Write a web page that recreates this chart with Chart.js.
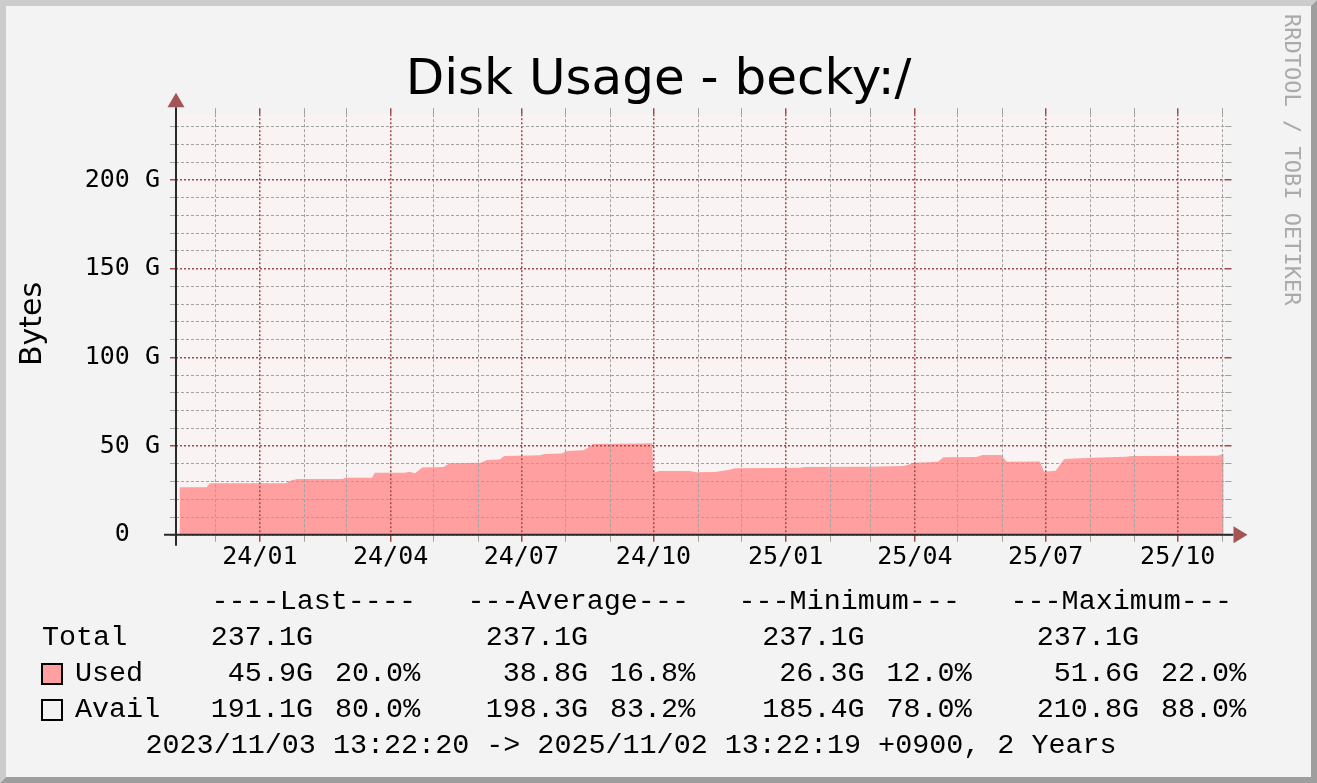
<!DOCTYPE html>
<html>
<head>
<meta charset="utf-8">
<script src="https://cdn.jsdelivr.net/npm/chart.js@4/dist/chart.umd.min.js"></script>
<style>
  html, body { margin: 0; padding: 0; background: #f3f3f3; }
  canvas { display: block; }
</style>
</head>
<body>
<canvas id="myChart" width="1317" height="783"></canvas>
<script>
const startTime = '2023-11-03T13:22:20+09:00';
const spanDays = 730;
const yMax = 237.1;

// Used bytes (G)
const usedDates = [
    '2023-11-06', '2023-11-25', '2023-11-27', '2024-01-19', '2024-01-22', '2024-01-27',
    '2024-02-28', '2024-02-29', '2024-03-19', '2024-03-21', '2024-04-11', '2024-04-14',
    '2024-04-18', '2024-04-23', '2024-05-08', '2024-05-12', '2024-06-03', '2024-06-07',
    '2024-06-16', '2024-06-19', '2024-07-14', '2024-07-17', '2024-07-29', '2024-08-02',
    '2024-08-13', '2024-08-16', '2024-08-20', '2024-09-22', '2024-09-30', '2024-10-01',
    '2024-10-05', '2024-10-26', '2024-10-31', '2024-11-13', '2024-11-22', '2024-11-27',
    '2025-01-11', '2025-01-14', '2025-03-01', '2025-03-24', '2025-04-01', '2025-04-17',
    '2025-04-21', '2025-05-14', '2025-05-18', '2025-05-31', '2025-06-04', '2025-06-27',
    '2025-06-30', '2025-07-08', '2025-07-14', '2025-08-02', '2025-08-26', '2025-08-30',
    '2025-10-29', '2025-11-02'
];
const usedValues = [
    26.8, 26.8, 29.0, 29.0, 30.5, 31.5,
    31.5, 32.2, 32.2, 35.0, 35.0, 35.6,
    34.7, 38.0, 38.2, 40.3, 40.6, 42.2,
    42.4, 44.4, 44.8, 45.5, 45.8, 47.2,
    47.6, 48.9, 51.2, 51.4, 51.6, 35.0,
    36.0, 36.0, 35.2, 35.4, 36.5, 37.5,
    37.8, 38.2, 38.4, 38.8, 40.6, 41.2,
    43.7, 43.8, 45.0, 45.0, 41.2, 41.3,
    35.6, 36.1, 42.7, 43.5, 44.0, 44.4,
    44.6, 45.9
];

const monthTickDates = [
    '2023-12-01', '2024-01-01', '2024-02-01', '2024-03-01', '2024-04-01', '2024-05-01',
    '2024-06-01', '2024-07-01', '2024-08-01', '2024-09-01', '2024-10-01', '2024-11-01',
    '2024-12-01', '2025-01-01', '2025-02-01', '2025-03-01', '2025-04-01', '2025-05-01',
    '2025-06-01', '2025-07-01', '2025-08-01', '2025-09-01', '2025-10-01', '2025-11-01'
];
const quarterTickDates = ['2024-01-01', '2024-04-01', '2024-07-01', '2024-10-01',
                          '2025-01-01', '2025-04-01', '2025-07-01', '2025-10-01'];
const quarterTickLabels = ['24/01', '24/04', '24/07', '24/10', '25/01', '25/04', '25/07', '25/10'];

const yTickValues = [0, 10, 20, 30, 40, 50, 60, 70, 80, 90, 100, 110, 120,
                     130, 140, 150, 160, 170, 180, 190, 200, 210, 220, 230];
const yLabelValues = [0, 50, 100, 150, 200];
const yLabelTexts = ['0  ', '50 G', '100 G', '150 G', '200 G'];

const legendHeaders = ['----Last----', '---Average---', '---Minimum---', '---Maximum---'];
const totalValues = ['237.1G', '237.1G', '237.1G', '237.1G'];
const usedStats = ['45.9G', '38.8G', '26.3G', '51.6G'];
const usedPercents = ['20.0%', '16.8%', '12.0%', '22.0%'];
const availStats = ['191.1G', '198.3G', '185.4G', '210.8G'];
const availPercents = ['80.0%', '83.2%', '78.0%', '88.0%'];
const footerText = '2023/11/03 13:22:20 -> 2025/11/02 13:22:19 +0900, 2 Years';

const startMs = Date.parse(startTime);
function dayOffset(date) {
    return (Date.parse(date + 'T00:00:00+09:00') - startMs) / 86400000;
}

const monthTickValues = monthTickDates.map(dayOffset);
const quarterTickValues = quarterTickDates.map(dayOffset);

const MAJOR = '#a44a4a';
const MINOR = '#a2a2a2';
const AREA = '#ff9f9f';

function isMajorX(v) {
    return quarterTickValues.some(q => Math.abs(q - v) < 0.01);
}
function isMajorY(v) {
    return v % 50 === 0;
}

function gridOpts(isMajor, tickLength, onArea) {
    return {
        z: 1,
        drawOnChartArea: onArea,
        tickLength: tickLength,
        color: c => (c.tick && isMajor(c.tick.value)) ? MAJOR : MINOR,
        tickColor: c => (c.tick && isMajor(c.tick.value)) ? MAJOR : MINOR,
        lineWidth: c => (c.tick && isMajor(c.tick.value)) ? 1.5 : 1,
        tickWidth: c => (c.tick && isMajor(c.tick.value)) ? 1.5 : 1
    };
}
function borderOpts(isMajor) {
    return {
        display: false,
        dash: c => (c.tick && isMajor(c.tick.value)) ? [2, 2] : [3, 2]
    };
}

const setMonthTicks = scale => { scale.ticks = monthTickValues.map(v => ({ value: v })); };
const setYTicks = scale => { scale.ticks = yTickValues.map(v => ({ value: v })); };

const rrdFrame = {
    id: 'rrdFrame',
    beforeDraw(chart) {
        const { ctx, chartArea: a } = chart;
        const W = chart.width, H = chart.height;
        ctx.save();
        ctx.fillStyle = '#f3f3f3';
        ctx.fillRect(0, 0, W, H);
        // bevel
        ctx.fillStyle = '#cccccc';
        ctx.beginPath();
        ctx.moveTo(0, 0); ctx.lineTo(W, 0); ctx.lineTo(W - 6, 6); ctx.lineTo(6, 6);
        ctx.lineTo(6, H - 6); ctx.lineTo(0, H); ctx.closePath();
        ctx.fill();
        ctx.fillStyle = '#9e9e9e';
        ctx.beginPath();
        ctx.moveTo(W, 0); ctx.lineTo(W, H); ctx.lineTo(0, H); ctx.lineTo(6, H - 6);
        ctx.lineTo(W - 6, H - 6); ctx.lineTo(W - 6, 6); ctx.closePath();
        ctx.fill();
        // canvas
        ctx.fillStyle = '#f9f3f3';
        ctx.fillRect(a.left, a.top, a.right - a.left, a.bottom - a.top);
        ctx.restore();
    },
    afterDraw(chart) {
        const { ctx, chartArea: a } = chart;
        const y0 = chart.scales.y.getPixelForValue(0);
        ctx.save();

        // axes
        ctx.strokeStyle = '#2a2a2a';
        ctx.lineWidth = 2;
        ctx.beginPath();
        ctx.moveTo(a.left - 12, y0); ctx.lineTo(a.right + 9, y0);
        ctx.moveTo(a.left, a.top - 7); ctx.lineTo(a.left, y0 + 11);
        ctx.stroke();

        // arrows
        ctx.fillStyle = '#a35555';
        ctx.beginPath();
        ctx.moveTo(a.left, a.top - 21.5);
        ctx.lineTo(a.left - 8.5, a.top - 7);
        ctx.lineTo(a.left + 8.5, a.top - 7);
        ctx.closePath();
        ctx.fill();
        ctx.beginPath();
        ctx.moveTo(a.right + 23, y0);
        ctx.lineTo(a.right + 9, y0 - 8.5);
        ctx.lineTo(a.right + 9, y0 + 8.5);
        ctx.closePath();
        ctx.fill();

        // title
        ctx.fillStyle = '#000';
        ctx.textBaseline = 'alphabetic';
        ctx.textAlign = 'center';
        ctx.font = '50px "DejaVu Sans"';
        ctx.fillText('Disk Usage - becky:/', chart.width / 2, 94);

        // vertical label
        ctx.save();
        ctx.translate(41, 324);
        ctx.rotate(-Math.PI / 2);
        ctx.font = '30px "DejaVu Sans"';
        ctx.textAlign = 'center';
        ctx.fillText('Bytes', 0, 0);
        ctx.restore();

        // watermark
        ctx.save();
        ctx.translate(1284.5, 14);
        ctx.rotate(Math.PI / 2);
        ctx.font = '22px "DejaVu Sans Mono"';
        ctx.textAlign = 'left';
        ctx.fillStyle = '#aaaaaa';
        ctx.fillText('RRDTOOL / TOBI OETIKER', 0, 0);
        ctx.restore();

        // legend
        const headX = [211.5, 467.5, 738.5, 1010.5];
        const valRight = [313, 588, 864.5, 1139];
        const pctLeft = [335, 610, 886.5, 1161];
        const rowY = [609, 645, 681, 717, 753];
        ctx.font = '28.4px "Liberation Mono"';
        ctx.fillStyle = '#000';
        ctx.textAlign = 'left';
        legendHeaders.forEach((t, i) => ctx.fillText(t, headX[i], rowY[0]));
        ctx.fillText('Total', 42, rowY[1]);
        ctx.fillText('Used', 75, rowY[2]);
        ctx.fillText('Avail', 75, rowY[3]);
        usedPercents.forEach((t, i) => ctx.fillText(t, pctLeft[i], rowY[2]));
        availPercents.forEach((t, i) => ctx.fillText(t, pctLeft[i], rowY[3]));
        ctx.fillText(footerText, 145.5, rowY[4]);
        ctx.textAlign = 'right';
        totalValues.forEach((t, i) => ctx.fillText(t, valRight[i], rowY[1]));
        usedStats.forEach((t, i) => ctx.fillText(t, valRight[i], rowY[2]));
        availStats.forEach((t, i) => ctx.fillText(t, valRight[i], rowY[3]));

        // legend boxes
        ctx.lineWidth = 2;
        ctx.strokeStyle = '#000';
        ctx.fillStyle = AREA;
        ctx.fillRect(42, 664, 20, 20);
        ctx.strokeRect(42, 664, 20, 20);
        ctx.strokeRect(42, 700, 20, 20);

        ctx.restore();
    }
};

const ctx = document.getElementById('myChart');

const data = {
    datasets: [{
        label: 'Used',
        data: usedDates.map((d, i) => ({ x: dayOffset(d), y: usedValues[i] })),
        fill: 'origin',
        backgroundColor: AREA,
        borderColor: 'rgba(0,0,0,0)',
        borderWidth: 0,
        pointRadius: 0,
        tension: 0
    }]
};

const options = {
    responsive: false,
    animation: false,
    devicePixelRatio: 1,
    layout: {
        padding: { left: 0, right: 85.5, top: 108.2, bottom: 208.2 }
    },
    plugins: {
        legend: { display: false },
        tooltip: { enabled: false },
        title: { display: false }
    },
    scales: {
        x: {
            type: 'linear',
            position: 'bottom',
            min: 0,
            max: spanDays,
            afterBuildTicks: setMonthTicks,
            afterFit: s => { s.height = 40; },
            grid: gridOpts(isMajorX, 7, true),
            border: borderOpts(isMajorX),
            ticks: {
                autoSkip: false,
                maxRotation: 0,
                minRotation: 0,
                padding: 1,
                color: '#000',
                font: { family: 'DejaVu Sans Mono', size: 25 },
                callback: value => {
                    const qi = quarterTickValues.findIndex(q => Math.abs(q - value) < 0.01);
                    return qi >= 0 ? quarterTickLabels[qi] : '';
                }
            }
        },
        xTop: {
            type: 'linear',
            position: 'top',
            min: 0,
            max: spanDays,
            afterBuildTicks: setMonthTicks,
            afterFit: s => { s.height = 6; },
            grid: gridOpts(isMajorX, 6, false),
            border: { display: false },
            ticks: { display: false }
        },
        y: {
            type: 'linear',
            position: 'left',
            min: 0,
            max: yMax,
            afterBuildTicks: setYTicks,
            afterFit: s => { s.width = 176; },
            grid: gridOpts(isMajorY, 6, true),
            border: borderOpts(isMajorY),
            ticks: {
                autoSkip: false,
                padding: 10,
                color: '#000',
                font: { family: 'DejaVu Sans Mono', size: 25 },
                callback: value => {
                    const li = yLabelValues.indexOf(value);
                    return li >= 0 ? yLabelTexts[li] : '';
                }
            }
        },
        yRight: {
            type: 'linear',
            position: 'right',
            min: 0,
            max: yMax,
            afterBuildTicks: setYTicks,
            afterFit: s => { s.width = 7; },
            grid: gridOpts(isMajorY, 7, false),
            border: { display: false },
            ticks: { display: false }
        }
    }
};

new Chart(ctx, {
    type: 'line',
    data: data,
    options: options,
    plugins: [rrdFrame]
});
</script>
</body>
</html>
